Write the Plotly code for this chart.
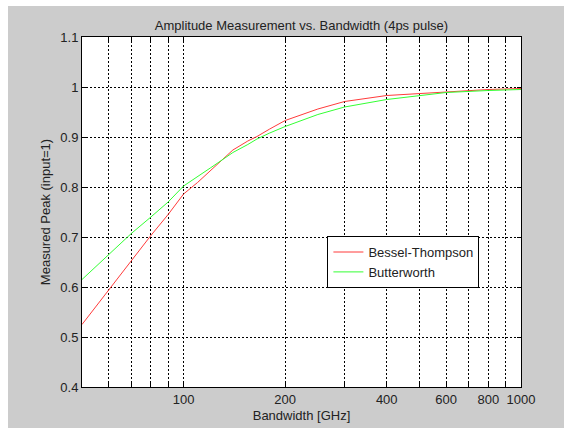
import plotly.graph_objects as go

# Filter bandwidth sweep (GHz) and measured peak amplitude for a 4 ps pulse
bandwidth = [50, 60, 70, 80, 90, 100, 110, 120, 130, 140, 155, 165, 180, 200,
             250, 300, 400, 500, 600, 800, 1000]
bessel_thompson = [0.525, 0.595, 0.653, 0.703, 0.745, 0.786, 0.809, 0.832, 0.855, 0.874,
                   0.892, 0.901, 0.916, 0.933, 0.956, 0.971, 0.983, 0.987, 0.991, 0.995, 0.997]
butterworth = [0.615, 0.665, 0.707, 0.740, 0.770, 0.802, 0.820, 0.838, 0.854, 0.869,
               0.885, 0.896, 0.908, 0.921, 0.945, 0.960, 0.975, 0.982, 0.989, 0.993, 0.995]

x_grid = [60, 70, 80, 90, 100, 200, 300, 400, 500, 600, 700, 800, 900, 1000]
x_labeled = {100: "100", 200: "200", 400: "400", 600: "600", 800: "800", 1000: "1000"}
x_text = [x_labeled.get(v, "") for v in x_grid]
y_ticks = [0.4, 0.5, 0.6, 0.7, 0.8, 0.9, 1.0, 1.1]
y_text = ["0.4", "0.5", "0.6", "0.7", "0.8", "0.9", "1", "1.1"]

FONT = "Liberation Sans, Arial, sans-serif"
TXT = "#222222"
BG = "#cccccc"

fig = go.Figure()
fig.add_trace(go.Scatter(x=bandwidth, y=bessel_thompson, mode="lines", name="Bessel-Thompson",
                         line=dict(color="#ff3b3b", width=1)))
fig.add_trace(go.Scatter(x=bandwidth, y=butterworth, mode="lines", name="Butterworth",
                         line=dict(color="#33ff33", width=1)))

axis_common = dict(
    showline=True, linecolor="black", linewidth=1, mirror="allticks",
    ticks="inside", ticklen=4, tickcolor="black",
    showgrid=True, gridcolor="black", griddash="2px,2px", gridwidth=1,
    zeroline=False, automargin=False, tickfont=dict(family=FONT, size=13, color=TXT),
)

fig.update_xaxes(type="log", range=[1.69897, 3], tickvals=x_grid, ticktext=x_text,
                 title=dict(text="Bandwidth [GHz]", standoff=5,
                            font=dict(family=FONT, size=13, color=TXT)),
                 **axis_common)
fig.update_yaxes(range=[0.4, 1.1], tickvals=y_ticks, ticktext=y_text,
                 title=dict(text="Measured Peak (input=1)", standoff=6,
                            font=dict(family=FONT, size=13, color=TXT)),
                 **axis_common)

fig.update_layout(
    width=564, height=428,
    margin=dict(l=82, r=43, t=37, b=41),
    paper_bgcolor=BG, plot_bgcolor="white",
    font=dict(family=FONT, size=13, color=TXT),
    title=dict(text="Amplitude Measurement vs. Bandwidth (4ps pulse)",
               x=0.5345, xanchor="center", y=1 - 25 / 428, yanchor="middle",
               font=dict(family=FONT, size=13, color=TXT)),
    legend=dict(x=0.559, y=0.357, xanchor="left", yanchor="middle",
                bgcolor="white", bordercolor="black", borderwidth=1,
                font=dict(family=FONT, size=13, color=TXT),
                tracegroupgap=0, itemwidth=30),
    showlegend=True,
    shapes=[
        # white strips framing the grey figure area
        dict(type="rect", xref="paper", yref="paper", x0=-0.2, x1=1.2,
             y0=1 + 31 / 350, y1=1.2, fillcolor="white", line_width=0, layer="above"),
        dict(type="rect", xref="paper", yref="paper", x0=-0.2, x1=-74 / 439,
             y0=-0.2, y1=1.2, fillcolor="white", line_width=0, layer="above"),
    ],
)

fig.write_html("out.html")
